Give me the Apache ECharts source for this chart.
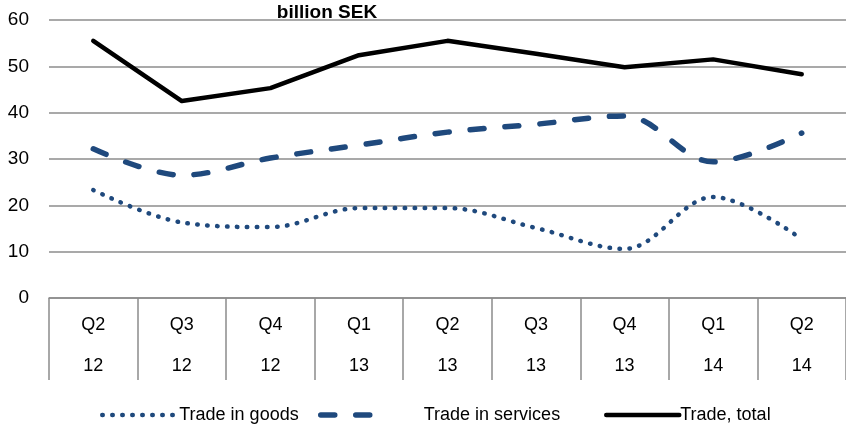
<!DOCTYPE html>
<html>
<head>
<meta charset="utf-8">
<script src="https://cdn.jsdelivr.net/npm/echarts@6/dist/echarts.min.js"></script>
<style>
html,body{margin:0;padding:0;background:#fff;}
#chart{width:846px;height:425px;}
</style>
</head>
<body>
<div id="chart"></div>
<script>
var quarters = ['Q2','Q3','Q4','Q1','Q2','Q3','Q4','Q1','Q2'];
var years = ['12','12','12','13','13','13','13','14','14'];
var tradeGoods = [23.3, 16.3, 15.3, 19.4, 19.4, 15.1, 10.6, 21.8, 12.7];
var tradeServices = [32.2, 26.5, 30.2, 33.0, 35.8, 37.5, 39.3, 29.4, 35.6];
var tradeTotal = [55.5, 42.5, 45.3, 52.4, 55.5, 52.7, 49.8, 51.5, 48.3];
var yTicks = [0, 60, 10];

var categories = quarters.map(function(q, i){ return q + '\n' + years[i]; });
var FONT = '"Liberation Sans", Arial, sans-serif';
var BLUE = '#1F497D';
var GRIDC = '#8c8c8c';
var goodsStyle = {color: BLUE, width: 4.5, type: [0.5, 9.5], cap: 'round'};
var servStyle = {color: BLUE, width: 5.5, type: [14, 21], cap: 'round'};
var totalStyle = {color: '#000', width: 4.5, join: 'round', cap: 'round'};

var chart = echarts.init(document.getElementById('chart'), null, {renderer:'canvas'});
chart.setOption({
  animation: false,
  backgroundColor: '#fff',
  title: {
    text: 'billion SEK',
    left: 322, top: -2, textAlign: 'center',
    textStyle: {fontFamily: FONT, fontWeight: 'bold', fontSize: 19, color: '#000'}
  },
  grid: {left: 49, top: 20, width: 808, height: 278, containLabel: false},
  xAxis: {
    type: 'category',
    data: categories,
    boundaryGap: true,
    axisLine: {show: true, lineStyle: {color: GRIDC, width: 1.5}},
    axisTick: {show: true, length: 82, interval: 0, lineStyle: {color: GRIDC, width: 1.5}},
    axisLabel: {interval: 0, margin: 7, lineHeight: 41, fontFamily: FONT, fontSize: 18, color: '#000'}
  },
  yAxis: {
    type: 'value',
    min: yTicks[0], max: yTicks[1], interval: yTicks[2],
    axisLine: {show: false},
    axisTick: {show: false},
    splitLine: {show: true, lineStyle: {color: GRIDC, width: 1.5}},
    axisLabel: {margin: 20, fontFamily: FONT, fontSize: 19, color: '#000'}
  },
  legend: [
    {data: ['Trade in goods'], left: 95, top: 401, itemWidth: 72, itemHeight: 14, itemGap: 0,
     itemStyle: {opacity: 0}, lineStyle: goodsStyle,
     textStyle: {fontFamily: FONT, fontSize: 18, color: '#000'}},
    {data: ['Trade in services'], left: 313, top: 401, itemWidth: 52, itemHeight: 14, itemGap: 0,
     itemStyle: {opacity: 0}, lineStyle: servStyle,
     textStyle: {fontFamily: FONT, fontSize: 18, color: '#000', padding: [0,0,0,46]}},
    {data: ['Trade, total'], left: 599, top: 401, itemWidth: 73, itemHeight: 14, itemGap: 0,
     itemStyle: {opacity: 0}, lineStyle: totalStyle,
     textStyle: {fontFamily: FONT, fontSize: 18, color: '#000', padding: [0,0,0,-4]}}
  ],
  series: [
    {name: 'Trade in goods', type: 'line', data: tradeGoods, smooth: 0.35, symbol: 'none',
     color: BLUE, lineStyle: goodsStyle},
    {name: 'Trade in services', type: 'line', data: tradeServices, smooth: 0.35, symbol: 'none',
     color: BLUE, lineStyle: servStyle},
    {name: 'Trade, total', type: 'line', data: tradeTotal, smooth: false, symbol: 'none',
     color: '#000', lineStyle: totalStyle}
  ]
});
</script>
</body>
</html>
